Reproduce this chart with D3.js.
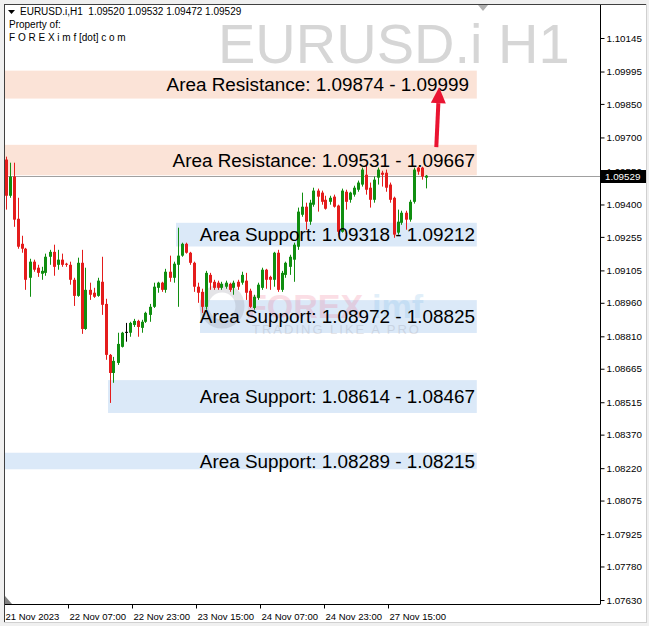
<!DOCTYPE html>
<html><head><meta charset="utf-8">
<script src="https://cdn.jsdelivr.net/npm/d3@7"></script>
<style>html,body{margin:0;padding:0;background:#fff;}svg{display:block;}</style>
</head><body>
<script>
// ---------------- DATA ----------------
const symbolTitle = "EURUSD.i,H1";
const headerOHLC = ["1.09520", "1.09532", "1.09472", "1.09529"];
const watermarkText = "EURUSD.i H1";
const opens = [1.09601,1.09439,1.09525,1.09336,1.09224,1.09202,1.09072,1.09144,1.09117,1.09090,
1.09094,1.09166,1.09188,1.09130,1.09153,1.09135,1.09130,1.09063,1.08991,1.09139,
1.08843,1.09018,1.09005,1.08991,1.09054,1.08955,1.08727,1.08646,1.08691,1.08763,
1.08830,1.08826,1.08861,1.08879,1.08848,1.08875,1.08906,1.08942,1.09027,1.09050,
1.09018,1.09099,1.09072,1.09130,1.09171,1.09224,1.09184,1.09139,1.09032,1.09009,
1.08942,1.09085,1.09054,1.09050,1.09027,1.09032,1.09045,1.09027,1.09054,1.09050,
1.09059,1.09014,1.08937,1.08982,1.09027,1.09108,1.09076,1.09063,1.09184,1.09018,
1.09085,1.09121,1.09153,1.09211,1.09354,1.09390,1.09323,1.09399,1.09462,1.09453,
1.09421,1.09412,1.09435,1.09395,1.09278,1.09457,1.09421,1.09444,1.09466,1.09489,
1.09533,1.09475,1.09421,1.09520,1.09542,1.09542,1.09489,1.09430,1.09274,1.09318,
1.09363,1.09332,1.09412,1.09565,1.09565,1.09520];
const highs = [1.09614,1.09587,1.09587,1.09430,1.09260,1.09206,1.09157,1.09153,1.09130,1.09121,
1.09180,1.09197,1.09220,1.09197,1.09180,1.09139,1.09144,1.09072,1.09162,1.09197,
1.09117,1.09050,1.09027,1.09072,1.09166,1.08978,1.08731,1.08718,1.08826,1.08830,
1.08870,1.08875,1.08888,1.08884,1.08884,1.08920,1.08955,1.09050,1.09054,1.09054,
1.09112,1.09171,1.09144,1.09296,1.09229,1.09229,1.09188,1.09144,1.09050,1.09023,
1.09103,1.09094,1.09063,1.09059,1.09054,1.09059,1.09050,1.09059,1.09063,1.09099,
1.09094,1.09023,1.08996,1.09050,1.09117,1.09112,1.09081,1.09188,1.09197,1.09103,
1.09144,1.09175,1.09229,1.09386,1.09453,1.09408,1.09421,1.09475,1.09471,1.09462,
1.09439,1.09439,1.09444,1.09399,1.09471,1.09466,1.09457,1.09484,1.09507,1.09565,
1.09578,1.09498,1.09525,1.09565,1.09551,1.09556,1.09498,1.09435,1.09377,1.09372,
1.09372,1.09421,1.09565,1.09569,1.09569,1.09532];
const lows = [1.09377,1.09430,1.09300,1.09202,1.09184,1.09018,1.08987,1.09099,1.09076,1.09063,
1.09081,1.09130,1.09081,1.09108,1.09121,1.09121,1.09041,1.08946,1.08987,1.08821,
1.08839,1.08973,1.08982,1.08987,1.08906,1.08705,1.08512,1.08602,1.08682,1.08760,
1.08786,1.08808,1.08852,1.08808,1.08826,1.08870,1.08875,1.08937,1.09005,1.09009,
1.09005,1.09054,1.09050,1.08942,1.09166,1.09180,1.09130,1.09009,1.08960,1.08915,
1.08929,1.09018,1.09018,1.09018,1.09018,1.09023,1.09009,1.08996,1.09018,1.09041,
1.08973,1.08937,1.08929,1.08973,1.09018,1.09023,1.09018,1.09032,1.09009,1.09009,
1.09072,1.09085,1.09054,1.09197,1.09345,1.09287,1.09309,1.09390,1.09368,1.09399,
1.09377,1.09399,1.09386,1.09265,1.09274,1.09377,1.09408,1.09435,1.09457,1.09480,
1.09444,1.09386,1.09408,1.09489,1.09480,1.09457,1.09408,1.09251,1.09265,1.09309,
1.09287,1.09323,1.09404,1.09533,1.09511,1.09472];
const closes = [1.09439,1.09525,1.09332,1.09211,1.09202,1.09063,1.09144,1.09108,1.09094,1.09103,
1.09166,1.09188,1.09121,1.09153,1.09130,1.09130,1.09063,1.08991,1.09139,1.08843,
1.09018,1.08996,1.08987,1.09059,1.08951,1.08727,1.08646,1.08700,1.08776,1.08826,
1.08830,1.08870,1.08879,1.08852,1.08875,1.08915,1.08942,1.09032,1.09050,1.09018,
1.09099,1.09072,1.09135,1.09171,1.09224,1.09184,1.09139,1.09032,1.09005,1.08942,
1.09094,1.09050,1.09027,1.09027,1.09045,1.09050,1.09018,1.09050,1.09032,1.09085,
1.09005,1.08942,1.08987,1.09041,1.09108,1.09063,1.09063,1.09184,1.09018,1.09094,
1.09139,1.09166,1.09220,1.09368,1.09390,1.09323,1.09408,1.09462,1.09435,1.09412,
1.09381,1.09430,1.09390,1.09278,1.09462,1.09412,1.09453,1.09475,1.09498,1.09556,
1.09466,1.09421,1.09511,1.09556,1.09533,1.09475,1.09421,1.09265,1.09323,1.09363,
1.09332,1.09412,1.09556,1.09547,1.09525,1.09529];
const currentPrice = 1.09529;

const priceTicks = [1.10145,1.09995,1.09850,1.09700,1.09550,1.09400,1.09255,1.09105,1.08960,
1.08810,1.08665,1.08515,1.08370,1.08220,1.08075,1.07925,1.07780,1.07630];
const priceDomain = [1.07630, 1.10145];

const timeTickIndex = [0, 16, 32, 48, 64, 80, 96];
const timeTickLabels = ["21 Nov 2023","22 Nov 07:00","22 Nov 23:00","23 Nov 15:00","24 Nov 07:00","24 Nov 23:00","27 Nov 15:00"];

const zoneKind  = ["Resistance","Resistance","Support","Support","Support","Support"];
const zoneHigh  = [1.09999, 1.09667, 1.09318, 1.08972, 1.08614, 1.08289];
const zoneLow   = [1.09874, 1.09531, 1.09212, 1.08825, 1.08467, 1.08215];
const zoneLabelA = ["1.09874","1.09531","1.09318","1.08972","1.08614","1.08289"];
const zoneLabelB = ["1.09999","1.09667","1.09212","1.08825","1.08467","1.08215"];
const zoneStartBar = [-3, -3, 43, 49, 26, -3];
const zoneEndBar = 118.2;

const arrowFrom = {bar: 107.7, price: 1.09657};
const arrowTo   = {bar: 108.4, price: 1.09925};

// ---------------- LAYOUT ----------------
const W = 649, H = 626;
const plot = {left: 4, top: 4, right: 600, bottom: 604};
const labelRightEdge = [469, 475, 475, 475, 475, 475];
const fontMain = "'Liberation Sans', Arial, sans-serif";
const svg = d3.select("body").append("svg").attr("width", W).attr("height", H)
  .style("font-family", fontMain);

const x = d3.scaleLinear().domain([0, 105]).range([5.5, 425.5]);
const y = d3.scaleLinear().domain(priceDomain).range([600, 38]);

// window background
svg.append("rect").attr("x",0).attr("y",0).attr("width",W).attr("height",H).attr("fill","#f0f0f0");
svg.append("rect").attr("x",plot.left).attr("y",plot.top).attr("width",642).attr("height",619).attr("fill","#fff");

const defs = svg.append("defs");
defs.append("clipPath").attr("id","plotclip").append("rect")
  .attr("x",plot.left+1).attr("y",plot.top+1).attr("width",plot.right-plot.left-1).attr("height",plot.bottom-plot.top-1);

const g = svg.append("g").attr("clip-path","url(#plotclip)");

// zones
const zoneFill = {Resistance: "#fbe3d7", Support: "#dbe9f8"};
g.selectAll("rect.zone").data(zoneHigh).join("rect")
  .attr("x", (d,i) => x(zoneStartBar[i]) - 1.5)
  .attr("y", (d,i) => y(zoneHigh[i]))
  .attr("width", (d,i) => x(zoneEndBar) - x(zoneStartBar[i]))
  .attr("height", (d,i) => y(zoneLow[i]) - y(zoneHigh[i]))
  .attr("fill", (d,i) => zoneFill[zoneKind[i]]);

// big watermark
g.append("text").attr("x", 218).attr("y", 63).text(watermarkText)
  .attr("font-size", 56).attr("fill", "#d6d6d6");

// logo watermark
const logo = g.append("g").attr("opacity", 0.22);
logo.append("circle").attr("cx", 222).attr("cy", 306).attr("r", 18).attr("fill","none").attr("stroke","#8a8a96").attr("stroke-width",9);
logo.append("text").attr("x", 246).attr("y", 318).text("FOREX").attr("font-size", 34).attr("font-weight","bold").attr("fill","#ef6f8e");
logo.append("text").attr("x", 372).attr("y", 318).text("imf").attr("font-size", 34).attr("font-weight","bold").attr("fill","#7ab8e8");
logo.append("text").attr("x", 252).attr("y", 334).text("TRADING LIKE A PRO").attr("font-size", 13).attr("fill","#8a8a96").attr("letter-spacing", 2);

// current price line
const cpY = Math.round(y(currentPrice)) + 0.5;
g.append("line").attr("x1", plot.left).attr("x2", plot.right).attr("y1", cpY).attr("y2", cpY)
  .attr("stroke","#a0a0a0").attr("stroke-width",1);

// candles
const colorOf = i => closes[i] > opens[i] ? "#108e10" : (closes[i] < opens[i] ? "#e41c1c" : "#000");
const idx = d3.range(opens.length);
g.selectAll("line.wick").data(idx).join("line")
  .attr("x1", i => Math.round(x(i)) + 0.5).attr("x2", i => Math.round(x(i)) + 0.5)
  .attr("y1", i => y(highs[i])).attr("y2", i => y(lows[i]))
  .attr("stroke", colorOf).attr("stroke-width", 1);
g.selectAll("rect.body").data(idx).join("rect")
  .attr("x", i => Math.round(x(i)) - 1)
  .attr("y", i => y(Math.max(opens[i], closes[i])))
  .attr("width", 3)
  .attr("height", i => Math.max(1, y(Math.min(opens[i], closes[i])) - y(Math.max(opens[i], closes[i]))))
  .attr("fill", colorOf);

// zone labels
g.selectAll("text.zl").data(zoneHigh).join("text")
  .attr("x", (d,i) => labelRightEdge[i])
  .attr("y", (d,i) => (y(zoneHigh[i]) + y(zoneLow[i]))/2 + 6.8)
  .attr("text-anchor","end")
  .attr("font-size", 18.9)
  .attr("fill","#000")
  .text((d,i) => `Area ${zoneKind[i]}: ${zoneLabelA[i]} - ${zoneLabelB[i]}`);

// arrow
const ax1 = x(arrowFrom.bar), ay1 = y(arrowFrom.price), ax2 = x(arrowTo.bar), ay2 = y(arrowTo.price);
const ang = Math.atan2(ay2-ay1, ax2-ax1);
const headLen = 16, headW = 7.5;
const bx = ax2 - headLen*Math.cos(ang), by = ay2 - headLen*Math.sin(ang);
g.append("line").attr("x1",ax1).attr("y1",ay1).attr("x2",bx).attr("y2",by).attr("stroke","#ea1431").attr("stroke-width",4);
g.append("path").attr("d", `M${ax2},${ay2} L${bx + headW*Math.sin(ang)},${by - headW*Math.cos(ang)} L${bx - headW*Math.sin(ang)},${by + headW*Math.cos(ang)} Z`).attr("fill","#ea1431");

// header text
const hdr = svg.append("g").attr("font-size", 10).attr("fill","#000");
hdr.append("path").attr("d","M8,10 L15,10 L11.5,14 Z").attr("fill","#000");
hdr.append("text").attr("x", 20).attr("y", 15).attr("xml:space","preserve").text(symbolTitle + "  " + headerOHLC.join(" "));
hdr.append("text").attr("x", 9).attr("y", 28).text("Property of:");
hdr.append("text").attr("x", 9).attr("y", 41).text("F O R E X i m f [dot] c o m");

// chart shift markers
svg.append("path").attr("d","M478,5 L488,5 L483,11 Z").attr("fill","#b0b0b0");
svg.append("path").attr("d","M5,596 L5,604 L12,604 Z").attr("fill","#808080");

// axes
const yAxis = d3.axisRight(y).tickValues(priceTicks).tickSize(4).tickPadding(2).tickFormat(d3.format(".5f"));
const ya = svg.append("g").attr("transform", `translate(${plot.right + 0.5},0)`).call(yAxis);
ya.select(".domain").attr("d", `M0,${plot.top}V${plot.bottom + 0.5}`).attr("stroke","#000");
ya.selectAll("text").attr("font-family", fontMain).attr("font-size", 9.8).attr("fill","#000");

const xAxis = d3.axisBottom(x).tickValues(timeTickIndex).tickSize(4).tickFormat((d,i) => timeTickLabels[i]);
const xa = svg.append("g").attr("transform", `translate(-1.5,${plot.bottom + 0.5})`).call(xAxis);
xa.select(".domain").attr("d", `M${plot.left + 1.5},0H${plot.right + 1.5}`).attr("stroke","#000");
xa.selectAll("text").attr("font-family", fontMain).attr("font-size", 9.5).attr("fill","#000").attr("text-anchor","start").attr("x", 1).attr("dy","0.9em");

// current price tag
svg.append("rect").attr("x", 601).attr("y", cpY - 6.5).attr("width", 46).attr("height", 13).attr("fill","#000");
svg.append("text").attr("x", 605).attr("y", cpY + 3.5).text(d3.format(".5f")(currentPrice))
  .attr("font-size", 9.8).attr("fill","#fff");

// frame
svg.append("line").attr("x1",4).attr("x2",647).attr("y1",4.5).attr("y2",4.5).attr("stroke","#404040");
svg.append("line").attr("x1",4.5).attr("x2",4.5).attr("y1",4).attr("y2",623).attr("stroke","#404040");
svg.append("line").attr("x1",646.5).attr("x2",646.5).attr("y1",4).attr("y2",623).attr("stroke","#d0d0d0");
svg.append("line").attr("x1",4).attr("x2",647).attr("y1",622.5).attr("y2",622.5).attr("stroke","#d0d0d0");
</script>
</body></html>
